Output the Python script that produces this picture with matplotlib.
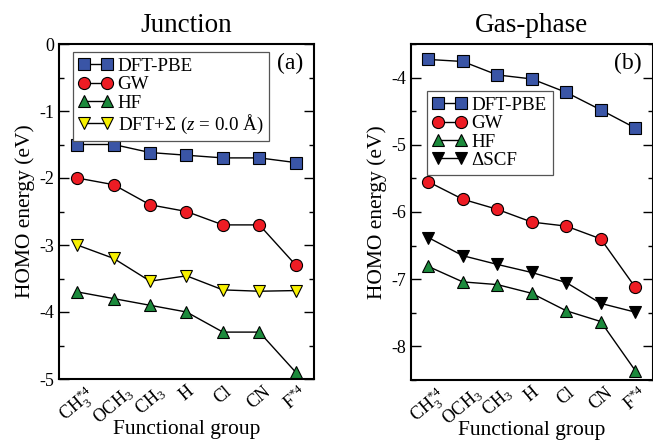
import matplotlib
matplotlib.use("Agg")
import matplotlib.pyplot as plt
from matplotlib.ticker import MultipleLocator

plt.rcParams['font.family'] = ['Liberation Serif', 'DejaVu Serif']
plt.rcParams['mathtext.fontset'] = 'custom'
plt.rcParams['mathtext.rm'] = 'Liberation Serif'
plt.rcParams['mathtext.it'] = 'Liberation Serif:italic'
plt.rcParams['axes.unicode_minus'] = False

groups = [r'CH$_3^{*4}$', r'OCH$_3$', r'CH$_3$', 'H', 'Cl', 'CN', r'F$^{*4}$']

# Panel (a): Junction
junc_pbe = [-1.50, -1.50, -1.62, -1.66, -1.70, -1.70, -1.77]
junc_gw = [-2.00, -2.10, -2.40, -2.50, -2.70, -2.70, -3.30]
junc_hf = [-3.70, -3.80, -3.90, -4.00, -4.30, -4.30, -4.90]
junc_dfts = [-3.00, -3.20, -3.54, -3.46, -3.67, -3.69, -3.68]

# Panel (b): Gas-phase
gas_pbe = [-3.73, -3.76, -3.96, -4.02, -4.22, -4.48, -4.75]
gas_gw = [-5.55, -5.81, -5.96, -6.15, -6.21, -6.40, -7.12]
gas_hf = [-6.81, -7.04, -7.08, -7.21, -7.47, -7.63, -8.36]
gas_dscf = [-6.38, -6.65, -6.78, -6.90, -7.05, -7.36, -7.49]

C_BLUE = '#3a55a6'
C_RED = '#ee1c24'
C_GREEN = '#1c8a3c'
C_YELLOW = '#f7f000'
C_BLACK = '#000000'

fig = plt.figure(figsize=(6.53, 4.43), dpi=100)
W, H = 653, 443
def axrect(l, r, t, b):
    return [l / W, (H - b) / H, (r - l) / W, (b - t) / H]

axA = fig.add_axes(axrect(59, 314, 44, 379))
axB = fig.add_axes(axrect(411, 652.5, 44, 380))

x = list(range(1, len(groups) + 1))

def series(ax, y, marker, color, label):
    ax.plot(x, y, '-', color='black', lw=1.0, marker=marker, markersize=8.7,
            markerfacecolor=color, markeredgecolor='black', markeredgewidth=0.8,
            label=label, clip_on=False, zorder=3)

series(axA, junc_pbe, 's', C_BLUE, 'DFT-PBE')
series(axA, junc_gw, 'o', C_RED, 'GW')
series(axA, junc_hf, '^', C_GREEN, 'HF')
series(axA, junc_dfts, 'v', C_YELLOW, r'DFT+Σ ($z$ = 0.0 Å)')

series(axB, gas_pbe, 's', C_BLUE, 'DFT-PBE')
series(axB, gas_gw, 'o', C_RED, 'GW')
series(axB, gas_hf, '^', C_GREEN, 'HF')
series(axB, gas_dscf, 'v', C_BLACK, 'ΔSCF')

axA.set_ylim(-5, 0)
axB.set_ylim(-8.5, -3.5)

for ax, title in ((axA, 'Junction'), (axB, 'Gas-phase')):
    ax.set_xlim(0.5, len(groups) + 0.5)
    ax.set_xticks(x)
    ax.set_xticklabels(groups, rotation=40, ha='center', fontsize=13)
    ax.yaxis.set_major_locator(MultipleLocator(1))
    ax.yaxis.set_minor_locator(MultipleLocator(0.5))
    ax.tick_params(axis='y', which='both', direction='in', left=True, right=True,
                   labelsize=13, width=1.0)
    ax.tick_params(axis='y', which='major', length=7)
    ax.tick_params(axis='y', which='minor', length=3.5)
    ax.tick_params(axis='x', which='both', length=0, pad=3)
    for s in ax.spines.values():
        s.set_linewidth(1.5)
    ax.set_title(title, fontsize=19.5, pad=9)
    ax.set_xlabel('Functional group', fontsize=15.5)
    ax.xaxis.set_label_coords(0.5, -0.122)
    ax.set_ylabel('HOMO energy (eV)', fontsize=15.5, labelpad=3)

axA.text(0.957, 0.975, '(a)', transform=axA.transAxes, ha='right', va='top', fontsize=17)
axB.text(0.957, 0.975, '(b)', transform=axB.transAxes, ha='right', va='top', fontsize=17)

leg_kw = dict(loc='upper left', borderaxespad=0, fancybox=False, framealpha=1,
              edgecolor='#555555', fontsize=13.7, handlelength=1.77, handletextpad=0.28,
              labelspacing=0.05, borderpad=0.3, numpoints=2, markerscale=1.0)
legA = axA.legend(bbox_to_anchor=(0.055, 0.976), **leg_kw)
legB = axB.legend(bbox_to_anchor=(0.066, 0.86), **leg_kw)
for leg in (legA, legB):
    leg.get_frame().set_linewidth(0.9)

fig.savefig('out.png', dpi=100)
